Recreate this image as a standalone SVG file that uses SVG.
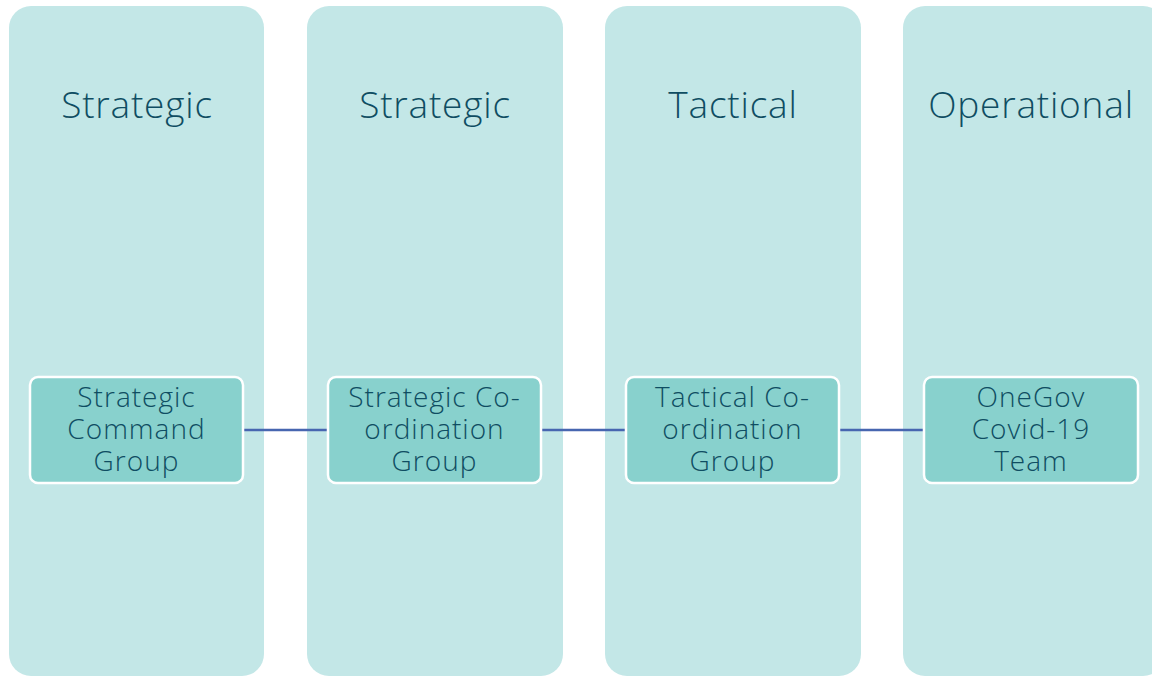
<svg xmlns="http://www.w3.org/2000/svg" width="1152" height="676" viewBox="0 0 1152 676">
  <style>
    .lane { fill: #c3e7e7; }
    .box { fill: #88d1cd; stroke: #ffffff; stroke-width: 2.5; }
    .head { font-family: "Open Sans", sans-serif; font-weight: 300; font-size: 37px; fill: #0f4d62; text-anchor: middle; letter-spacing: 0.8px; }
    .label { font-family: "Open Sans", sans-serif; font-weight: 300; font-size: 28px; fill: #0f4d62; text-anchor: middle; letter-spacing: 1px; }
    .link { stroke: #4766b0; stroke-width: 2.5; fill: none; }
  </style>
  <rect width="1152" height="676" fill="#ffffff"/>

  <!-- swimlane columns -->
  <g id="lanes">
    <rect class="lane" x="9" y="6" width="255" height="670" rx="22"/>
    <rect class="lane" x="307" y="6" width="256" height="670" rx="22"/>
    <rect class="lane" x="605" y="6" width="256" height="670" rx="22"/>
    <rect class="lane" x="903" y="6" width="262" height="670" rx="22"/>
    <text class="head" x="137" y="118">Strategic</text>
    <text class="head" x="435" y="118">Strategic</text>
    <text class="head" x="733" y="118">Tactical</text>
    <text class="head" x="1031" y="118">Operational</text>
  </g>

  <!-- connectors between groups -->
  <g id="connectors">
    <line class="link" x1="243" y1="430" x2="328" y2="430"/>
    <line class="link" x1="541" y1="430" x2="626" y2="430"/>
    <line class="link" x1="839" y1="430" x2="924" y2="430"/>
  </g>

  <g id="strategic-command">
    <rect class="box" x="30" y="377" width="213" height="106" rx="8"/>
    <text class="label" y="407"><tspan x="136.5">Strategic</tspan><tspan x="136.5" dy="32">Command</tspan><tspan x="136.5" dy="32">Group</tspan></text>
  </g>

  <g id="strategic-coordination">
    <rect class="box" x="328" y="377" width="213" height="106" rx="8"/>
    <text class="label" y="407"><tspan x="434.5">Strategic Co-</tspan><tspan x="434.5" dy="32">ordination</tspan><tspan x="434.5" dy="32">Group</tspan></text>
  </g>

  <g id="tactical-coordination">
    <rect class="box" x="626" y="377" width="213" height="106" rx="8"/>
    <text class="label" y="407"><tspan x="732.5">Tactical Co-</tspan><tspan x="732.5" dy="32">ordination</tspan><tspan x="732.5" dy="32">Group</tspan></text>
  </g>

  <g id="onegov-team">
    <rect class="box" x="924" y="377" width="214" height="106" rx="8"/>
    <text class="label" y="407"><tspan x="1031">OneGov</tspan><tspan x="1031" dy="32">Covid-19</tspan><tspan x="1031" dy="32">Team</tspan></text>
  </g>
</svg>
